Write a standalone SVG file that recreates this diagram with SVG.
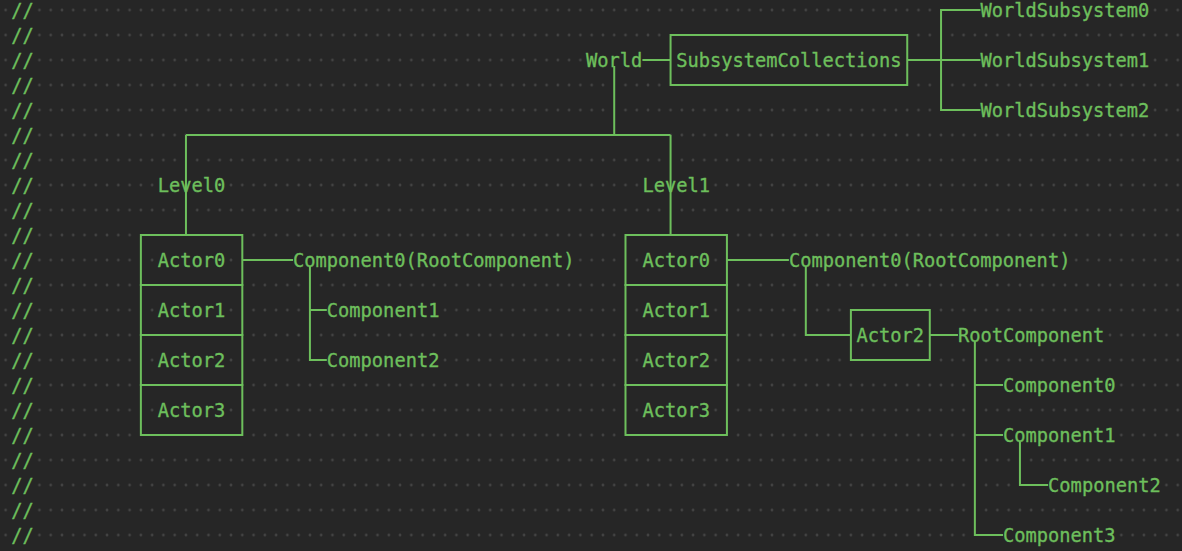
<svg xmlns="http://www.w3.org/2000/svg" width="1182" height="551" viewBox="0 0 1182 551">
  <style>
    .t { font-family: "DejaVu Sans Mono", "Liberation Mono", monospace; font-size: 18.72px; fill: #6dbf5c; stroke: #6dbf5c; stroke-width: 0.35; }
    .box { fill: none; stroke: #6dbf5c; stroke-width: 2; }
    .wire { fill: none; stroke: #6dbf5c; stroke-width: 2; }
    .m-line { fill: none; stroke: #000; stroke-width: 7; }
    .m-txt { fill: #000; }
  </style>
  <defs>
    <pattern id="dots" patternUnits="userSpaceOnUse" x="-0.6" y="-2.5" width="11.27" height="25">
      <circle cx="5.635" cy="12.5" r="1.3" fill="#4a4a4a"/>
    </pattern>
    <mask id="ws" maskUnits="userSpaceOnUse" x="-10" y="0" width="1200" height="551">
      <rect x="-10" y="0" width="1200" height="551" fill="#fff"/>
      <path class="m-line" d="M641.79 60H669.97 M906.64 60H979.89 M979.89 10H940.45V110H979.89 M613.62 66V135 M185.36 135H669.97 M185.36 135V235 M669.97 135V235 M241.71 260H292.42 M309.33 266V360H326.23 M309.33 310H326.23 M726.32 260H788.3 M805.21 266V335H850.29 M929.18 335H957.35 M974.26 342V535H1002.43 M974.26 385H1002.43 M974.26 435H1002.43 M1019.34 442V485H1047.51"/>
      <path class="m-line" d="M669.97 35H906.64V85H669.97Z M140.27 235H241.71V435H140.27Z M140.27 285H241.71 M140.27 335H241.71 M140.27 385H241.71 M624.89 235H726.32V435H624.89Z M624.89 285H726.32 M624.89 335H726.32 M624.89 385H726.32 M850.29 310H929.18V360H850.29Z"/>
      <rect class="m-txt" x="10.67" y="0" width="22.54" height="551"/>
      <rect class="m-txt" x="585.44" y="55" width="56.35" height="10"/>
      <rect class="m-txt" x="675.6" y="55" width="225.4" height="10"/>
      <rect class="m-txt" x="979.89" y="5" width="169.05" height="10"/>
      <rect class="m-txt" x="979.89" y="55" width="169.05" height="10"/>
      <rect class="m-txt" x="979.89" y="105" width="169.05" height="10"/>
      <rect class="m-txt" x="157.18" y="180" width="67.62" height="10"/>
      <rect class="m-txt" x="641.79" y="180" width="67.62" height="10"/>
      <rect class="m-txt" x="157.18" y="255" width="67.62" height="10"/>
      <rect class="m-txt" x="157.18" y="305" width="67.62" height="10"/>
      <rect class="m-txt" x="157.18" y="355" width="67.62" height="10"/>
      <rect class="m-txt" x="157.18" y="405" width="67.62" height="10"/>
      <rect class="m-txt" x="641.79" y="255" width="67.62" height="10"/>
      <rect class="m-txt" x="641.79" y="305" width="67.62" height="10"/>
      <rect class="m-txt" x="641.79" y="355" width="67.62" height="10"/>
      <rect class="m-txt" x="641.79" y="405" width="67.62" height="10"/>
      <rect class="m-txt" x="292.42" y="255" width="281.75" height="10"/>
      <rect class="m-txt" x="788.3" y="255" width="281.75" height="10"/>
      <rect class="m-txt" x="326.23" y="305" width="112.7" height="10"/>
      <rect class="m-txt" x="326.23" y="355" width="112.7" height="10"/>
      <rect class="m-txt" x="855.92" y="330" width="67.62" height="10"/>
      <rect class="m-txt" x="957.35" y="330" width="146.51" height="10"/>
      <rect class="m-txt" x="1002.43" y="380" width="112.7" height="10"/>
      <rect class="m-txt" x="1002.43" y="430" width="112.7" height="10"/>
      <rect class="m-txt" x="1047.51" y="480" width="112.7" height="10"/>
      <rect class="m-txt" x="1002.43" y="530" width="112.7" height="10"/>
    </mask>
  </defs>

  <rect x="0" y="0" width="1182" height="551" fill="#262626"/>
  <g transform="translate(0.6 0)">
  <rect id="whitespace" x="-10" y="0" width="1200" height="551" fill="url(#dots)" mask="url(#ws)"/>

  <g id="comment-marks" class="t">
    <text x="10.67" y="16.7">//</text>
    <text x="10.67" y="41.7">//</text>
    <text x="10.67" y="66.7">//</text>
    <text x="10.67" y="91.7">//</text>
    <text x="10.67" y="116.7">//</text>
    <text x="10.67" y="141.7">//</text>
    <text x="10.67" y="166.7">//</text>
    <text x="10.67" y="191.7">//</text>
    <text x="10.67" y="216.7">//</text>
    <text x="10.67" y="241.7">//</text>
    <text x="10.67" y="266.7">//</text>
    <text x="10.67" y="291.7">//</text>
    <text x="10.67" y="316.7">//</text>
    <text x="10.67" y="341.7">//</text>
    <text x="10.67" y="366.7">//</text>
    <text x="10.67" y="391.7">//</text>
    <text x="10.67" y="416.7">//</text>
    <text x="10.67" y="441.7">//</text>
    <text x="10.67" y="466.7">//</text>
    <text x="10.67" y="491.7">//</text>
    <text x="10.67" y="516.7">//</text>
    <text x="10.67" y="541.7">//</text>
  </g>

  <g id="connectors" class="wire">
    <path d="M641.79 60H669.97"/>
    <path d="M906.64 60H979.89"/>
    <path d="M979.89 10H940.45V110H979.89"/>
    <path d="M613.62 66V135"/>
    <path d="M185.36 135H669.97"/>
    <path d="M185.36 135V235"/>
    <path d="M669.97 135V235"/>
    <path d="M241.71 260H292.42"/>
    <path d="M309.33 266V360H326.23"/>
    <path d="M309.33 310H326.23"/>
    <path d="M726.32 260H788.3"/>
    <path d="M805.21 266V335H850.29"/>
    <path d="M929.18 335H957.35"/>
    <path d="M974.26 342V535H1002.43"/>
    <path d="M974.26 385H1002.43"/>
    <path d="M974.26 435H1002.43"/>
    <path d="M1019.34 442V485H1047.51"/>
  </g>

  <g id="world"><text class="t" x="585.44" y="66.7">World</text></g>
  <g id="subsystem-collections">
    <rect class="box" x="669.97" y="35" width="236.67" height="50"/>
    <text class="t" x="675.6" y="66.7">SubsystemCollections</text>
  </g>
  <g id="world-subsystem0"><text class="t" x="979.89" y="16.7">WorldSubsystem0</text></g>
  <g id="world-subsystem1"><text class="t" x="979.89" y="66.7">WorldSubsystem1</text></g>
  <g id="world-subsystem2"><text class="t" x="979.89" y="116.7">WorldSubsystem2</text></g>

  <g id="level0"><text class="t" x="157.18" y="191.7">Level0</text></g>
  <g id="level1"><text class="t" x="641.79" y="191.7">Level1</text></g>

  <g id="l0-actor0"><rect class="box" x="140.27" y="235" width="101.44" height="50"/><text class="t" x="157.18" y="266.7">Actor0</text></g>
  <g id="l0-actor1"><rect class="box" x="140.27" y="285" width="101.44" height="50"/><text class="t" x="157.18" y="316.7">Actor1</text></g>
  <g id="l0-actor2"><rect class="box" x="140.27" y="335" width="101.44" height="50"/><text class="t" x="157.18" y="366.7">Actor2</text></g>
  <g id="l0-actor3"><rect class="box" x="140.27" y="385" width="101.44" height="50"/><text class="t" x="157.18" y="416.7">Actor3</text></g>

  <g id="l0-component0"><text class="t" x="292.42" y="266.7">Component0(RootComponent)</text></g>
  <g id="l0-component1"><text class="t" x="326.23" y="316.7">Component1</text></g>
  <g id="l0-component2"><text class="t" x="326.23" y="366.7">Component2</text></g>

  <g id="l1-actor0"><rect class="box" x="624.89" y="235" width="101.43" height="50"/><text class="t" x="641.79" y="266.7">Actor0</text></g>
  <g id="l1-actor1"><rect class="box" x="624.89" y="285" width="101.43" height="50"/><text class="t" x="641.79" y="316.7">Actor1</text></g>
  <g id="l1-actor2"><rect class="box" x="624.89" y="335" width="101.43" height="50"/><text class="t" x="641.79" y="366.7">Actor2</text></g>
  <g id="l1-actor3"><rect class="box" x="624.89" y="385" width="101.43" height="50"/><text class="t" x="641.79" y="416.7">Actor3</text></g>

  <g id="l1-component0"><text class="t" x="788.3" y="266.7">Component0(RootComponent)</text></g>
  <g id="child-actor2">
    <rect class="box" x="850.29" y="310" width="78.89" height="50"/>
    <text class="t" x="855.92" y="341.7">Actor2</text>
  </g>
  <g id="root-component"><text class="t" x="957.35" y="341.7">RootComponent</text></g>
  <g id="a2-component0"><text class="t" x="1002.43" y="391.7">Component0</text></g>
  <g id="a2-component1"><text class="t" x="1002.43" y="441.7">Component1</text></g>
  <g id="a2-component2"><text class="t" x="1047.51" y="491.7">Component2</text></g>
  <g id="a2-component3"><text class="t" x="1002.43" y="541.7">Component3</text></g>
  </g>
</svg>
